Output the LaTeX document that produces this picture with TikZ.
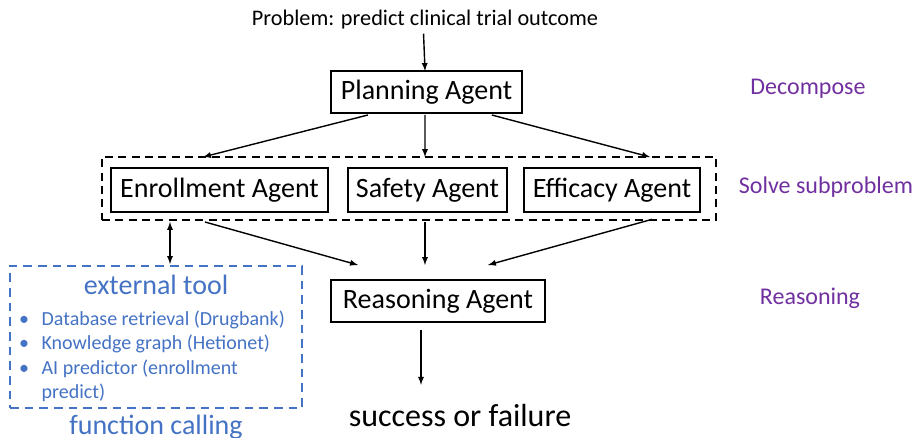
\documentclass[tikz,border=0pt]{standalone}
\usepackage{fontspec}
\setmainfont{Carlito}
\usepackage{xcolor}
\definecolor{toolblue}{RGB}{68,114,196}
\definecolor{phasepurple}{RGB}{112,48,160}
\usepackage{tikz}
\usetikzlibrary{positioning}
\usetikzlibrary{arrows,calc}

\begin{document}
\begin{tikzpicture}[x=0.75pt,y=-0.75pt,>=latex,every node/.style={inner sep=0,outer sep=0},
	agent/.style={draw,line width=1.1pt,minimum height=31.5pt,font=\fontsize{21}{25}\selectfont},
	phase/.style={text=phasepurple,font=\fontsize{18}{22}\selectfont},
	tooltext/.style={text=toolblue,font=\fontsize{21}{25}\selectfont},
	link/.style={line width=1.05pt}]
	\useasboundingbox (0,0) rectangle (915,438);
	\node (prob) at (425,20) {\fontsize{16.7}{20}\selectfont Problem: predict clinical trial outcome};
	\node[agent,minimum width=143pt] (plan) at (426.5,92) {Planning Agent};
	% subproblem agents
	\node[agent,minimum width=162.75pt,minimum height=33pt] (enroll) at (219.5,190) {Enrollment Agent};
	\node[agent,minimum width=119.25pt,minimum height=33pt] (safety) at (427.5,190) {Safety Agent};
	\node[agent,minimum width=132pt,minimum height=33pt] (efficacy) at (612,190) {Efficacy Agent};
	\node[draw,line width=1.1pt,dash pattern=on 6pt off 4pt,minimum width=460.5pt,minimum height=47.25pt] (sub) at (409,188.5) {};
	\node[agent,minimum width=160.5pt] (reason) at (438,301) {Reasoning Agent};
	\node (result) at (460,416) {\fontsize{24}{28}\selectfont success or failure};
	% external tool
	\node[draw=toolblue,line width=1.1pt,dash pattern=on 6.5pt off 4.5pt,minimum width=219pt,minimum height=106.5pt] (tool) at (156,337) {};
	\node[tooltext,below=7pt of tool.north] (toolhead) {external tool};
	\node[anchor=north west,text=toolblue,font=\fontsize{15}{18.4}\selectfont] (toollist) at ($(tool.north west)+(9,42)$)
		{\begin{tabular}{@{}l@{\hspace{9.5pt}}l@{}}
		\textbullet & Database retrieval (Drugbank)\\
		\textbullet & Knowledge graph (Hetionet)\\
		\textbullet & AI predictor (enrollment\\
		 & predict)
		\end{tabular}};
	\node[tooltext,below=5pt of tool] (fcall) {function calling};
	% phases
	\node[phase] (decomp) at (808,89) {Decompose};
	\node[phase] (solve) at (826,187) {Solve subproblem};
	\node[phase] (reasonlbl) at (810,298) {Reasoning};
	\draw[->,link] ([xshift=-1.1pt,yshift=-3pt]prob.south) -- ([xshift=-1.1pt]plan.north);
	\draw[->,link] ([xshift=-43.9pt,yshift=-1.5pt]plan.south) -- ([xshift=-154.5pt]sub.north);
	\draw[->,link] ([xshift=-1.1pt,yshift=-1.5pt]plan.south) -- ([xshift=12pt]sub.north);
	\draw[->,link] ([xshift=49pt,yshift=-1.5pt]plan.south) -- ([xshift=180.75pt]sub.north);
	\draw[->,link] ([xshift=-153pt,yshift=-1.5pt]sub.south) -- ([xshift=-60pt,yshift=11.25pt]reason.north);
	\draw[->,link] ([xshift=12pt,yshift=-1.5pt]sub.south) -- ([xshift=-9.75pt,yshift=11.25pt]reason.north);
	\draw[->,link] ([xshift=182.25pt,yshift=0.5pt]sub.south) -- ([xshift=37.5pt,yshift=11.25pt]reason.north);
	\draw[<->,link] ([xshift=-179.25pt,yshift=-1.5pt]sub.south) -- ([xshift=10.5pt,yshift=1.5pt]tool.north);
	\draw[->,link] ([xshift=-12.75pt,yshift=-6pt]reason.south) -- ([xshift=-29.25pt,yshift=15pt]result.north);
\end{tikzpicture}
\end{document}
